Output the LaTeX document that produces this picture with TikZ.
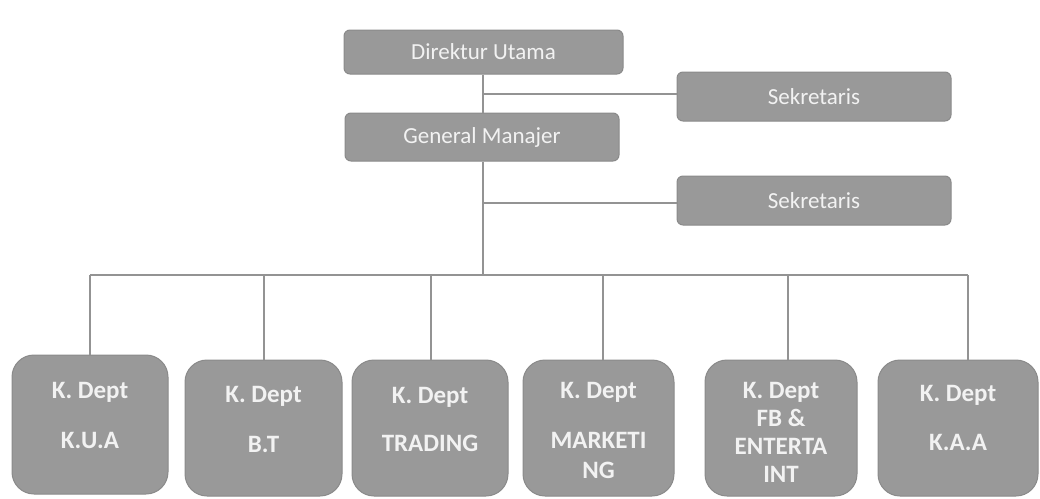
\documentclass[tikz,border=0pt]{standalone}
\usepackage{fontspec}
\setmainfont{Carlito}
\definecolor{boxfill}{HTML}{999999}
\definecolor{boxline}{HTML}{8A8A8A}
\definecolor{txtcol}{HTML}{F2F2F2}
\definecolor{conncol}{HTML}{939393}
\begin{document}
\begin{tikzpicture}[x=1pt,y=-1pt,
  topbox/.style={draw=boxline, line width=1pt, fill=boxfill, rounded corners=6pt,
    text=txtcol, inner sep=0pt, font=\fontsize{23}{27}\selectfont},
  deptbox/.style={draw=boxline, line width=1pt, fill=boxfill, rounded corners=22pt, inner sep=0pt},
  dtext/.style={anchor=north, align=center, inner sep=0pt, text=txtcol,
    font=\fontsize{25}{30}\selectfont\bfseries},
  conn/.style={draw=conncol, line width=1.4pt}]
\useasboundingbox (0,0) rectangle (1040,498);

% top boxes
\node[topbox, minimum width=279pt, minimum height=44pt] (dir) at (483.5,52) {Direktur Utama};
\node[topbox, minimum width=274pt, minimum height=49pt] (sek1) at (814,96.5) {Sekretaris};
\node[topbox, minimum width=274pt, minimum height=48pt] (gm) at (482,137) {General Manajer};
\node[topbox, minimum width=274pt, minimum height=49pt] (sek2) at (814,200.5) {Sekretaris};

% department boxes
\node[deptbox, minimum width=156pt, minimum height=139pt] (kua) at (90,424.5) {};
\node[deptbox, minimum width=157pt, minimum height=136pt] (bt) at (263.5,428) {};
\node[deptbox, minimum width=156pt, minimum height=136pt] (trd) at (430,428) {};
\node[deptbox, minimum width=151pt, minimum height=136pt] (mkt) at (598.5,428) {};
\node[deptbox, minimum width=152pt, minimum height=136pt] (fb) at (781,428) {};
\node[deptbox, minimum width=160pt, minimum height=136pt] (kaa) at (958,428) {};

\node[dtext] (kuat) at ([yshift=-28pt]kua.north) {K. Dept\\[20pt]K.U.A};
\node[dtext] (btt) at ([yshift=-27pt]bt.north) {K. Dept\\[20pt]B.T};
\node[dtext] (trdt) at ([yshift=-28pt]trd.north) {K. Dept\\[18pt]TRADING};
\node[dtext] (mktt) at ([yshift=-23pt]mkt.north) {K. Dept\\[20pt]MARKETI\\NG};
\node[dtext, font=\fontsize{25}{28}\selectfont\bfseries] (fbt) at ([yshift=-23pt]fb.north) {K. Dept\\FB \&\\ENTERTA\\INT};
\node[dtext] (kaat) at ([yshift=-26pt]kaa.north) {K. Dept\\[19pt]K.A.A};

% connectors
\coordinate (j1) at (483,94);
\coordinate (j2) at (483,203);
\coordinate (bus) at (483,275);
\draw[conn] (dir.south -| j1) -- (gm.north -| j1);
\draw[conn] (j1) -- (j1 -| sek1.west);
\draw[conn] (gm.south -| bus) -- (bus);
\draw[conn] (j2) -- (j2 -| sek2.west);

\coordinate (b1) at (90,275);
\coordinate (b2) at (264,275);
\coordinate (b3) at (431,275);
\coordinate (b4) at (603,275);
\coordinate (b5) at (788,275);
\coordinate (b6) at (968,275);
\draw[conn] (b1) -- (b6);
\draw[conn] (b1) -- (b1 |- kua.north);
\draw[conn] (b2) -- (b2 |- bt.north);
\draw[conn] (b3) -- (b3 |- trd.north);
\draw[conn] (b4) -- (b4 |- mkt.north);
\draw[conn] (b5) -- (b5 |- fb.north);
\draw[conn] (b6) -- (b6 |- kaa.north);
\end{tikzpicture}
\end{document}
